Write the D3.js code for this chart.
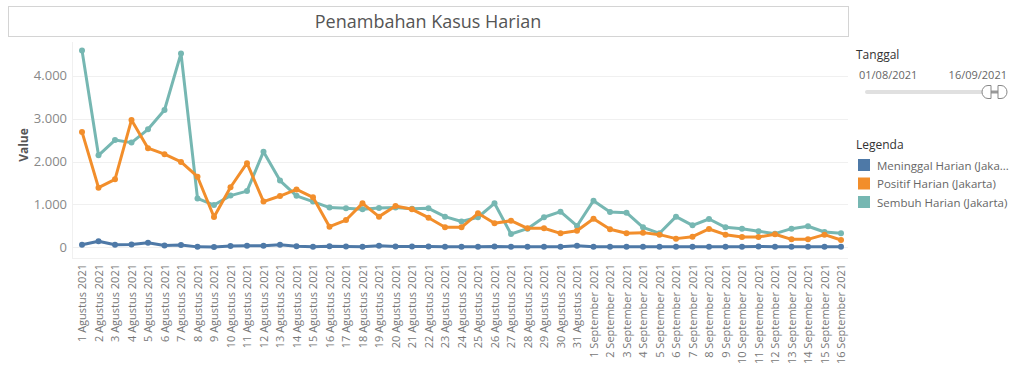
<!DOCTYPE html>
<html>
<head>
<meta charset="utf-8">
<script src="https://cdn.jsdelivr.net/npm/d3@7"></script>
<style>
  body { margin: 0; background: #fff; }
  svg text { font-family: "Open Sans", sans-serif; }
</style>
</head>
<body>
<div id="chart"></div>
<script>
// Penambahan Kasus Harian - daily cases Jakarta, 1 Aug - 16 Sep 2021

const bulanAgustus = d3.range(1, 32).map(d => d + " Agustus 2021");
const bulanSeptember = d3.range(1, 17).map(d => d + " September 2021");
const tanggal = bulanAgustus.concat(bulanSeptember);

const seriesNames = ["Meninggal Harian (Jakarta)", "Positif Harian (Jakarta)", "Sembuh Harian (Jakarta)"];
const legendLabels = ["Meninggal Harian (Jaka...", "Positif Harian (Jakarta)", "Sembuh Harian (Jakarta)"];
const seriesColors = ["#4e79a7", "#f28e2b", "#76b7b2"];

const meninggal = [60, 140, 60, 65, 105, 40, 55, 10, 5, 30, 35, 35, 60, 25, 15, 25, 20, 15, 35, 20,
  20, 20, 15, 15, 10, 20, 15, 15, 15, 15, 35, 15, 15, 15, 10, 10, 15, 15, 15, 10, 10, 20, 10, 10, 10, 10, 10];
const positif = [2690, 1390, 1585, 2970, 2310, 2170, 1990, 1645, 705, 1400, 1960, 1065, 1195, 1350, 1165, 480,
  636, 1025, 715, 963, 885, 690, 466, 466, 792, 560, 620, 443, 443, 326, 387, 667,
  420, 326, 342, 295, 202, 248, 427, 295, 240, 240, 303, 186, 186, 295, 170];
const sembuh = [4590, 2145, 2500, 2440, 2750, 3200, 4520, 1140, 985, 1205, 1310, 2230, 1555, 1200, 1065, 925,
  908, 885, 916, 930, 900, 908, 715, 600, 700, 1025, 310, 434, 700, 830, 497, 1087,
  823, 808, 466, 326, 715, 512, 660, 466, 434, 373, 318, 434, 490, 357, 326];

const yTicks = [0, 1000, 2000, 3000, 4000];

const width = 1024, height = 371;
const svg = d3.select("#chart").append("svg")
  .attr("width", width).attr("height", height);

// title box
svg.append("rect")
  .attr("x", 8.5).attr("y", 6.5).attr("width", 840).attr("height", 30)
  .attr("fill", "#fff").attr("stroke", "#d4d4d4");
svg.append("text")
  .attr("x", 428).attr("y", 28)
  .attr("text-anchor", "middle")
  .style("font-size", "18px").style("fill", "#555")
  .text("Penambahan Kasus Harian");

const x = d3.scalePoint().domain(tanggal).range([82, 841]);
const y = d3.scaleLinear().domain([0, 4000]).range([247.3, 75.7]);

// grid
svg.append("g").selectAll("line").data(yTicks).join("line")
  .attr("x1", 72).attr("x2", 848)
  .attr("y1", d => Math.round(y(d)) + 0.5).attr("y2", d => Math.round(y(d)) + 0.5)
  .attr("stroke", "#f0f0f0");
svg.append("line").attr("x1", 72.5).attr("x2", 72.5).attr("y1", 42).attr("y2", 258)
  .attr("stroke", "#f0f0f0");
svg.append("line").attr("x1", 72).attr("x2", 848).attr("y1", 258.5).attr("y2", 258.5)
  .attr("stroke", "#f0f0f0");

// y axis
const yAxis = svg.append("g")
  .attr("transform", "translate(72,0)")
  .call(d3.axisLeft(y).tickValues(yTicks).tickSize(0).tickPadding(5)
    .tickFormat(d => d3.format(",")(d).replace(/,/g, ".")));
yAxis.select(".domain").remove();
yAxis.selectAll("text").style("font-size", "13px").style("fill", "#888").attr("font-family", null);

svg.append("text")
  .attr("transform", "translate(28,145) rotate(-90)")
  .attr("text-anchor", "middle")
  .style("font-size", "12px").style("font-weight", "bold").style("fill", "#555")
  .text("Value");

// x axis
const xAxis = svg.append("g")
  .attr("transform", "translate(0,262)")
  .call(d3.axisBottom(x).tickSize(0).tickPadding(0));
xAxis.select(".domain").remove();
xAxis.selectAll("text")
  .attr("transform", "rotate(-90)")
  .attr("text-anchor", "end")
  .attr("x", -2).attr("y", 0).attr("dy", "0.35em")
  .attr("font-family", null)
  .style("font-size", "11px").style("fill", "#777");

// lines
const allSeries = [meninggal, positif, sembuh];
const line = d3.line()
  .x((d, i) => x(tanggal[i]))
  .y(d => y(d));

const order = [2, 1, 0];
order.forEach(k => {
  const g = svg.append("g");
  g.append("path")
    .datum(allSeries[k])
    .attr("d", line)
    .attr("fill", "none")
    .attr("stroke", seriesColors[k])
    .attr("stroke-width", 3)
    .attr("stroke-linejoin", "round");
  g.selectAll("circle").data(allSeries[k]).join("circle")
    .attr("cx", (d, i) => x(tanggal[i]))
    .attr("cy", d => y(d))
    .attr("r", 3)
    .attr("fill", seriesColors[k]);
});

// filter: Tanggal
svg.append("text").attr("x", 856).attr("y", 59)
  .style("font-size", "12px").style("fill", "#333").text("Tanggal");
svg.append("text").attr("x", 859).attr("y", 79)
  .style("font-size", "11px").style("fill", "#666").text("01/08/2021");
svg.append("text").attr("x", 1007).attr("y", 79).attr("text-anchor", "end")
  .style("font-size", "11px").style("fill", "#666").text("16/09/2021");
svg.append("line").attr("x1", 867).attr("x2", 985).attr("y1", 92).attr("y2", 92)
  .attr("stroke", "#e0e0e0").attr("stroke-width", 4).attr("stroke-linecap", "round");
svg.append("line").attr("x1", 990).attr("x2", 999).attr("y1", 92).attr("y2", 92)
  .attr("stroke", "#999").attr("stroke-width", 3);
svg.append("path")
  .attr("d", "M991,85.5 L988,85.5 A6,6.5 0 0 0 988,98.5 L991,98.5 Z")
  .attr("fill", "#fff").attr("stroke", "#888");
svg.append("path")
  .attr("d", "M998,85.5 L1001,85.5 A6,6.5 0 0 1 1001,98.5 L998,98.5 Z")
  .attr("fill", "#fff").attr("stroke", "#888");

// legend
svg.append("text").attr("x", 856).attr("y", 149)
  .style("font-size", "12px").style("fill", "#333").text("Legenda");
const leg = svg.append("g").selectAll("g").data(seriesNames).join("g")
  .attr("transform", (d, i) => `translate(858,${159 + i * 18.5})`);
leg.append("rect").attr("width", 12).attr("height", 12)
  .attr("fill", (d, i) => seriesColors[i]);
leg.append("text").attr("x", 19).attr("y", 10.5)
  .style("font-size", "11.5px").style("fill", "#666")
  .text((d, i) => legendLabels[i]);
</script>
</body>
</html>
